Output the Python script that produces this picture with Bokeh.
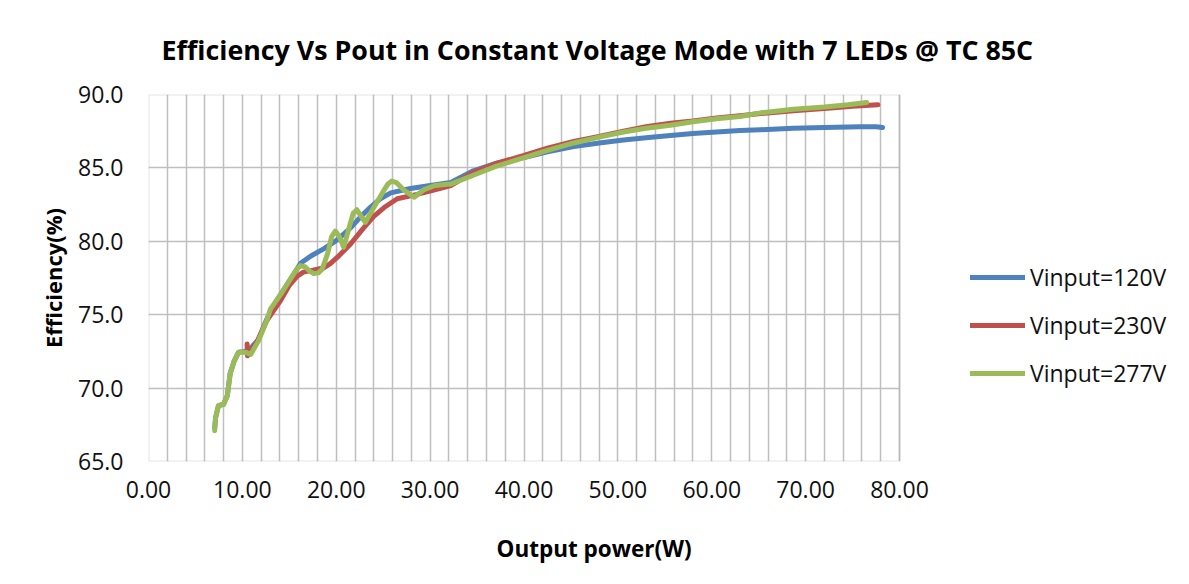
from bokeh.plotting import figure
from bokeh.models import (Legend, LegendItem, FixedTicker, PrintfTickFormatter,
                          Range1d, Grid, BoxAnnotation, LinearAxis, Title)
from bokeh.embed import file_html
from bokeh.resources import INLINE

# ---- data ----
x_120 = [7.05, 7.15, 7.45, 8.0, 8.4, 8.7, 9.1, 9.6, 10.3, 11.0, 11.7, 12.6, 13.5, 14.5,
         15.5, 16.2, 17.3, 18.7, 20.1, 21.5, 22.5, 23.6, 24.7, 25.8, 27.9, 30.0, 32.2,
         34.6, 37.0, 40.0, 42.5, 45.3, 48.0, 50.6, 53.0, 55.6, 58.0, 60.5, 63.0, 65.2,
         68.7, 72.0, 75.8, 77.5, 78.2]
y_120 = [67.3, 68.0, 68.8, 68.9, 69.5, 71.0, 71.8, 72.45, 72.5, 72.8, 73.3, 74.7, 75.8,
         76.8, 77.8, 78.5, 79.0, 79.5, 80.1, 80.9, 81.6, 82.3, 82.9, 83.3, 83.6, 83.8,
         84.0, 84.8, 85.3, 85.7, 86.1, 86.45, 86.7, 86.9, 87.05, 87.2, 87.35, 87.45,
         87.55, 87.6, 87.7, 87.75, 87.8, 87.8, 87.75]

x_230 = [10.5, 10.55, 11.0, 11.6, 12.6, 14.1, 15.0, 15.8, 16.5, 17.3, 18.0, 18.7, 19.4,
         20.1, 21.5, 22.9, 24.0, 25.1, 26.5, 28.6, 30.5, 32.2, 34.6, 37.0, 40.0, 42.5,
         45.3, 48.0, 50.6, 53.0, 55.6, 58.0, 60.5, 63.0, 65.2, 68.7, 72.0, 75.0, 77.7]
y_230 = [73.0, 72.2, 72.6, 73.2, 74.6, 76.0, 77.0, 77.6, 77.9, 78.0, 78.1, 78.2, 78.5,
         78.9, 79.8, 80.9, 81.7, 82.3, 82.9, 83.2, 83.5, 83.8, 84.7, 85.3, 85.85, 86.35,
         86.8, 87.15, 87.5, 87.8, 88.05, 88.2, 88.4, 88.55, 88.7, 88.9, 89.05, 89.2, 89.3]

x_277 = [7.05, 7.15, 7.45, 8.0, 8.4, 8.7, 9.1, 9.6, 10.3, 10.9, 11.7, 12.6, 13.0, 14.1,
         15.2, 15.8, 16.2, 16.7, 17.2, 17.6, 18.1, 18.5, 19.1, 19.5, 19.9, 20.3, 20.8,
         21.4, 21.8, 22.2, 22.6, 23.1, 24.0, 25.0, 25.5, 25.9, 26.4, 27.2, 28.3, 29.3,
         30.5, 32.2, 34.6, 37.0, 40.0, 42.5, 45.3, 48.0, 50.6, 53.0, 55.6, 58.0, 60.5,
         63.0, 65.2, 68.7, 72.0, 74.5, 76.5]
y_277 = [67.1, 68.0, 68.8, 68.9, 69.5, 71.0, 71.8, 72.45, 72.45, 72.3, 73.2, 74.6, 75.4,
         76.4, 77.5, 78.1, 78.35, 78.25, 77.95, 77.8, 77.85, 78.1, 79.2, 80.3, 80.7,
         80.35, 79.6, 81.0, 81.9, 82.15, 81.75, 81.3, 82.3, 83.4, 83.9, 84.1, 84.0, 83.5,
         83.0, 83.5, 83.8, 83.9, 84.5, 85.1, 85.7, 86.2, 86.7, 87.1, 87.45, 87.7, 87.9,
         88.15, 88.35, 88.5, 88.75, 89.0, 89.15, 89.3, 89.45]

series_names = ["Vinput=120V", "Vinput=230V", "Vinput=277V"]
series_colors = ["#4F81BD", "#C0504D", "#9BBB59"]

x_min, x_max = 0, 80
y_min, y_max = 65, 90
x_ticks = [0, 10, 20, 30, 40, 50, 60, 70, 80]
x_grid = list(range(0, 81, 2))
y_ticks = [65, 70, 75, 80, 85, 90]

title_text = "Efficiency  Vs Pout in Constant Voltage Mode with 7 LEDs @ TC 85C"
x_title = "Output power(W)"
y_title = "Efficiency(%)"

# ---- layout (pixels) ----
W, H = 1173, 568
AX_LEFT, AX_RIGHT, AX_TOP, AX_BOTTOM = 148, 899, 94, 461
# the frame continues to the right edge so that the legend (right of the axes box)
# is drawn inside it; the x scale keeps 0..80 on AX_LEFT..AX_RIGHT
px_per_unit = (AX_RIGHT - AX_LEFT) / (x_max - x_min)
x_view_end = x_min + (W - AX_LEFT) / px_per_unit

FONT = "Open Sans"
GRID = "#BFBFBF"
BORDER = "#A6A6A6"

p = figure(width=W, height=H, output_backend="svg", toolbar_location=None,
           x_range=Range1d(x_min, x_view_end), y_range=Range1d(y_min, y_max),
           min_border_left=AX_LEFT, min_border_right=0, min_border_top=AX_TOP,
           min_border_bottom=H - AX_BOTTOM)
p.outline_line_color = None

p.title.text = title_text
p.title.align = "left"
p.title.offset = 13
p.title.standoff = 53
p.title.text_font = FONT
p.title.text_font_style = "bold"
p.title.text_font_size = "26.8px"
p.title.text_color = "#000000"

for ax in (p.xaxis[0], p.yaxis[0]):
    ax.axis_line_color = None
    ax.major_tick_line_color = None
    ax.minor_tick_line_color = None
    ax.major_tick_out = 0
    ax.major_tick_in = 0
    ax.minor_tick_out = 0
    ax.minor_tick_in = 0
    ax.major_label_text_font = FONT
    ax.major_label_text_font_size = "23px"
    ax.major_label_text_color = "#111111"

p.xaxis.ticker = FixedTicker(ticks=x_ticks)
p.xaxis.formatter = PrintfTickFormatter(format="%.2f")
p.xaxis.major_label_standoff = 19

p.yaxis.ticker = FixedTicker(ticks=y_ticks)
p.yaxis.formatter = PrintfTickFormatter(format="%.1f")
p.yaxis.major_label_standoff = 25
p.yaxis.axis_label = y_title
p.yaxis.axis_label_text_font = FONT
p.yaxis.axis_label_text_font_style = "bold"
p.yaxis.axis_label_text_color = "#000000"
p.yaxis.axis_label_text_font_size = "22px"
p.yaxis.axis_label_standoff = 7

# blank gap between the tick labels and the x-axis title
gap = LinearAxis(ticker=FixedTicker(ticks=[x_min]), axis_line_color=None,
                 major_tick_line_color=None, minor_tick_line_color=None,
                 major_tick_out=30, major_tick_in=0, minor_tick_out=0, minor_tick_in=0,
                 major_label_standoff=0, major_label_overrides={x_min: ""},
                 major_label_text_font_size="0px")
p.add_layout(gap, "below")
p.add_layout(Title(text=x_title, align="left", offset=348, standoff=0, text_font=FONT,
                   text_font_style="bold", text_font_size="22.5px", text_color="#000000"),
             "below")

p.xgrid.ticker = FixedTicker(ticks=x_grid)
p.ygrid.ticker = FixedTicker(ticks=y_ticks)
for g in (p.xgrid[0], p.ygrid[0]):
    g.grid_line_color = GRID
    g.grid_line_width = 1.5
if "cross_bounds" in Grid.properties():
    p.ygrid.cross_bounds = (x_min, x_max)
    p.xgrid.cross_bounds = (y_min, y_max)
else:
    p.ygrid.visible = False
    p.multi_line(xs=[[x_min, x_max] for _ in y_ticks], ys=[[t, t] for t in y_ticks],
                 line_color=GRID, line_width=1.5)

p.add_layout(BoxAnnotation(left=x_min, right=x_max, bottom=y_min, top=y_max,
                           fill_alpha=0, line_color=BORDER, line_width=2, level="underlay"))

renderers = []
for xs, ys, col in zip([x_120, x_230, x_277], [y_120, y_230, y_277], series_colors):
    r = p.line(xs, ys, line_color=col, line_width=5, line_join="round", line_cap="round")
    renderers.append(r)

legend = Legend(items=[LegendItem(label=n, renderers=[r]) for n, r in zip(series_names, renderers)],
                location=(970 - AX_LEFT, AX_BOTTOM - 389), padding=0, margin=0, spacing=16,
                glyph_width=55, glyph_height=32, label_height=32, label_standoff=5,
                border_line_alpha=0, background_fill_alpha=0, label_text_font=FONT,
                label_text_font_size="23px", label_text_color="#111111")
p.add_layout(legend, "center")

open("out.html", "w").write(file_html(p, INLINE))
